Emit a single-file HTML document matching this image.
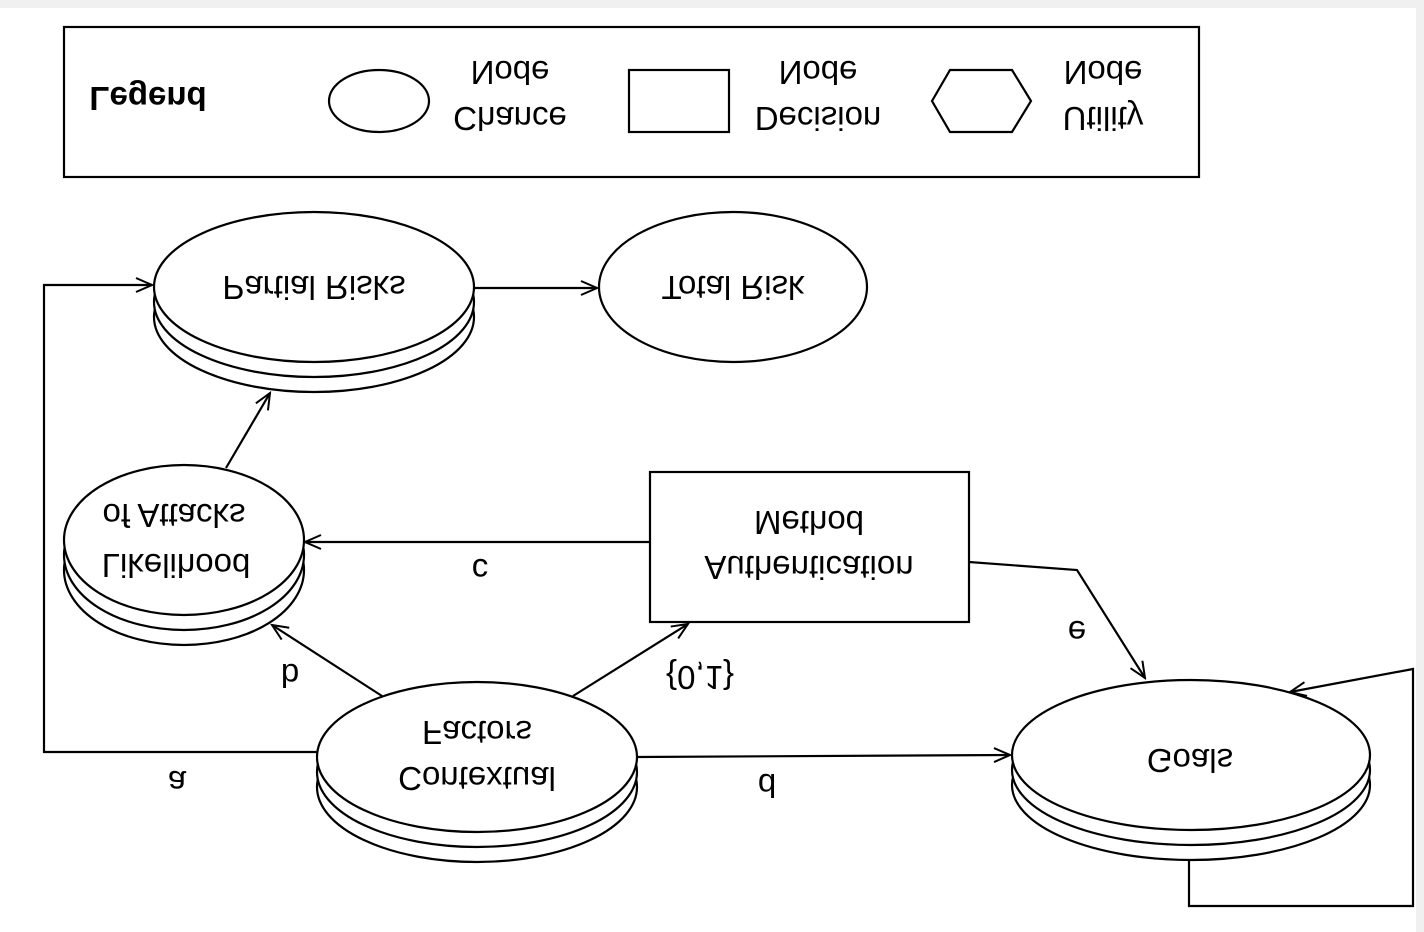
<!DOCTYPE html>
<html><head><meta charset="utf-8"><style>html,body{margin:0;padding:0;background:#fff}svg{display:block}</style></head>
<body>
<svg width="1424" height="932" viewBox="0 0 1424 932" xmlns="http://www.w3.org/2000/svg" font-family="Liberation Sans, Arial, sans-serif">
<defs>
<marker id="a" markerWidth="20" markerHeight="16" refX="18" refY="8" orient="auto" markerUnits="userSpaceOnUse">
<path d="M2,1 L18,8 L2,15" fill="none" stroke="#000" stroke-width="2"/>
</marker>
</defs>
<rect x="0" y="0" width="1424" height="932" fill="#fff"/>
<rect x="0" y="0" width="1424" height="8" fill="#f0f0f0"/>
<rect x="1416" y="0" width="8" height="932" fill="#f0f0f0"/>
<g fill="none" stroke="#000" stroke-width="2.2">
<rect x="64" y="27" width="1135" height="150"/>
<ellipse cx="379" cy="101" rx="50" ry="31"/>
<rect x="629" y="70" width="100" height="62"/>
<polygon points="932,101 950,70 1012,70 1031,101 1012,132 950,132"/>
</g>
<g fill="#fff" stroke="#000" stroke-width="2.2">
<ellipse cx="314" cy="317" rx="160" ry="75"/><ellipse cx="314" cy="302" rx="160" ry="75"/><ellipse cx="314" cy="287" rx="160" ry="75"/>
<ellipse cx="733" cy="287" rx="134" ry="75"/>
<ellipse cx="184" cy="570" rx="120" ry="75"/><ellipse cx="184" cy="555" rx="120" ry="75"/><ellipse cx="184" cy="540" rx="120" ry="75"/>
<rect x="650" y="472" width="319" height="150"/>
<ellipse cx="477" cy="787" rx="160" ry="75"/><ellipse cx="477" cy="772" rx="160" ry="75"/><ellipse cx="477" cy="757" rx="160" ry="75"/>
<ellipse cx="1191" cy="785" rx="179" ry="75"/><ellipse cx="1191" cy="770" rx="179" ry="75"/><ellipse cx="1191" cy="755" rx="179" ry="75"/>
</g>
<g fill="none" stroke="#000" stroke-width="2.2" marker-end="url(#a)">
<path d="M474,288 L597,288"/>
<path d="M317,752 L44,752 L44,285 L152,285"/>
<path d="M226,468 L270,393"/>
<path d="M650,542 L305,542"/>
<path d="M382,696 L272,625"/>
<path d="M573,696 L688,624"/>
<path d="M637,757 L1010,755"/>
<path d="M969,562 L1077,570 L1145,678"/>
<path d="M1189,860 L1189,906 L1413,906 L1413,669 L1290,692"/>
</g>
<g font-size="33" text-anchor="middle" fill="#000">
<text transform="translate(148,98) scale(1,-1)" dy="11" font-weight="bold">Legend</text>
<text transform="translate(510,72) scale(1,-1)" dy="11">Node</text>
<text transform="translate(510,118) scale(1,-1)" dy="11">Chance</text>
<text transform="translate(818,72) scale(1,-1)" dy="11">Node</text>
<text transform="translate(818,118) scale(1,-1)" dy="11">Decision</text>
<text transform="translate(1103,72) scale(1,-1)" dy="11">Node</text>
<text transform="translate(1103,118) scale(1,-1)" dy="11">Utility</text>
<text transform="translate(314,287) scale(1,-1)" dy="11">Partial Risks</text>
<text transform="translate(733,287) scale(1,-1)" dy="11">Total Risk</text>
<text transform="translate(174,515) scale(1,-1)" dy="11">of Attacks</text>
<text transform="translate(176,565) scale(1,-1)" dy="11">Likelihood</text>
<text transform="translate(809,522) scale(1,-1)" dy="11">Method</text>
<text transform="translate(809,567) scale(1,-1)" dy="11">Authentication</text>
<text transform="translate(477,732) scale(1,-1)" dy="11">Factors</text>
<text transform="translate(477,778) scale(1,-1)" dy="11">Contextual</text>
<text transform="translate(1190,760) scale(1,-1)" dy="11">Goals</text>
<text transform="translate(177,782) scale(1,-1)" dy="11">a</text>
<text transform="translate(290,675) scale(1,-1)" dy="11">b</text>
<text transform="translate(480,570) scale(1,-1)" dy="11">c</text>
<text transform="translate(767,785) scale(1,-1)" dy="11">d</text>
<text transform="translate(1077,632) scale(1,-1)" dy="11">e</text>
<text transform="translate(700,677) scale(1,-1)" dy="11">{0,1}</text>
</g>
</svg>
</body></html>
